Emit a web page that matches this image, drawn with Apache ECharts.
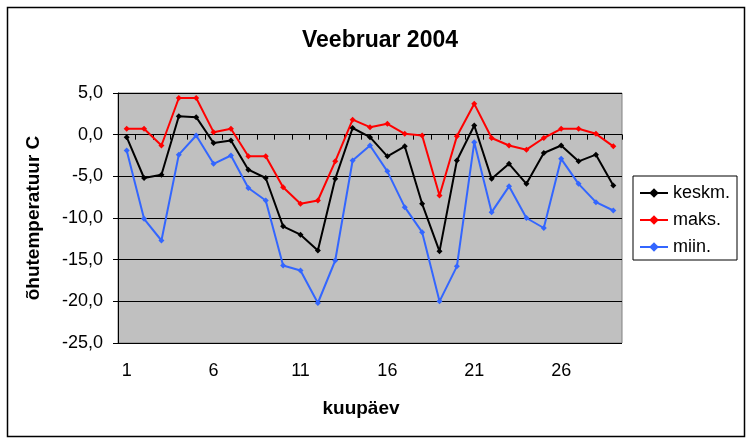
<!DOCTYPE html>
<html>
<head>
<meta charset="utf-8">
<script src="https://cdn.jsdelivr.net/npm/echarts@6/dist/echarts.min.js"></script>
<style>
html,body{margin:0;padding:0;background:#fff;}
#c{width:751px;height:441px;}
</style>
</head>
<body>
<div id="c"></div>
<script>
var days = [];
for (var d = 1; d <= 29; d++) days.push(String(d));
var keskm = [-0.3,-5.2,-4.8,2.2,2.1,-1.0,-0.7,-4.2,-5.2,-11.0,-12.0,-13.9,-5.3,0.8,-0.3,-2.6,-1.4,-8.3,-14.0,-3.1,1.1,-5.3,-3.5,-5.9,-2.2,-1.3,-3.2,-2.4,-6.1];
var maks = [0.7,0.7,-1.3,4.4,4.4,0.3,0.7,-2.6,-2.6,-6.3,-8.3,-7.9,-3.2,1.8,0.9,1.3,0.1,-0.1,-7.3,-0.2,3.7,-0.4,-1.3,-1.8,-0.4,0.7,0.7,0.1,-1.4];
var miin = [-1.9,-10.1,-12.7,-2.4,-0.1,-3.5,-2.5,-6.4,-7.9,-15.7,-16.3,-20.2,-15.1,-3.1,-1.3,-4.4,-8.7,-11.7,-20.0,-15.8,-0.9,-9.3,-6.2,-10.0,-11.2,-2.9,-5.9,-8.1,-9.1];
var seriesNames = ['keskm.','maks.','miin.'];
var colors = ['#000000','#FF0000','#3366FF'];

var chart = echarts.init(document.getElementById('c'));
var font = 'Arial, "Liberation Sans", sans-serif';
function mk(name, data, color) {
  return {
    name: name, type: 'line', data: data,
    symbol: 'diamond', symbolSize: 6,
    itemStyle: {color: color},
    lineStyle: {color: color, width: 2},
    animation: false
  };
}
chart.setOption({
  animation: false,
  backgroundColor: '#fff',
  title: {
    text: 'Veebruar 2004', left: 375, top: 24, textAlign: 'center',
    textStyle: {fontFamily: font, fontSize: 23, fontWeight: 'bold', color: '#000'}
  },
  graphic: [{
    type: 'rect', shape: {x: 7.5, y: 7.5, width: 737, height: 429},
    style: {fill: 'none', stroke: '#000', lineWidth: 1.5}, silent: true, z: 0
  }],
  legend: {
    orient: 'vertical', left: 633, top: 176,
    data: seriesNames,
    borderColor: '#000', borderWidth: 1,
    padding: [8, 7, 4, 6],
    itemWidth: 28, itemHeight: 12, itemGap: 9,
    textStyle: {fontFamily: font, fontSize: 18, color: '#000'}
  },
  grid: {left: 118, right: 129, top: 93, bottom: 98, show: true, backgroundColor: '#C0C0C0', borderColor: '#808080', borderWidth: 1},
  xAxis: {
    type: 'category', data: days, boundaryGap: true,
    name: 'kuupäev', nameLocation: 'middle', nameGap: 56,
    nameTextStyle: {fontFamily: font, fontSize: 19, fontWeight: 'bold', color: '#000', padding: [0, 18, 0, 0]},
    axisLine: {lineStyle: {color: '#000', width: 1}},
    axisTick: {show: true, interval: 0, length: 5, lineStyle: {color: '#000'}},
    axisLabel: {interval: 4, fontFamily: font, fontSize: 18, color: '#000', margin: 19},
    splitLine: {show: false}
  },
  yAxis: {
    type: 'value', min: -25, max: 5, interval: 5,
    name: 'õhutemperatuur C', nameLocation: 'middle', nameGap: 75,
    nameTextStyle: {fontFamily: font, fontSize: 19, fontWeight: 'bold', color: '#000'},
    axisLine: {show: true, lineStyle: {color: '#000', width: 1}},
    axisTick: {show: true, length: 5, lineStyle: {color: '#000'}},
    axisLabel: {fontFamily: font, fontSize: 18, color: '#000', margin: 15,
      formatter: function (v) { return v.toFixed(1).replace('.', ','); }},
    splitLine: {show: true, lineStyle: {color: '#000', width: 1}}
  },
  series: [mk(seriesNames[0], keskm, colors[0]), mk(seriesNames[1], maks, colors[1]), mk(seriesNames[2], miin, colors[2])]
});
</script>
</body>
</html>
